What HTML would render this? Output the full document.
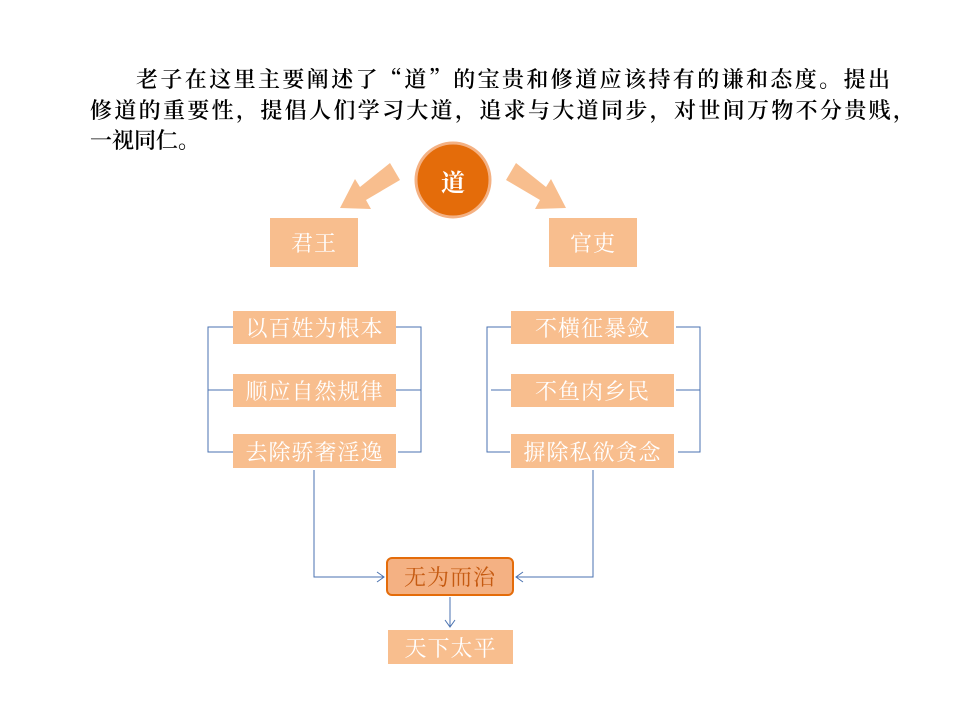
<!DOCTYPE html>
<html><head><meta charset="utf-8"><style>
body{margin:0;width:960px;height:720px;background:#fff;position:relative;overflow:hidden;font-family:"Noto Serif CJK SC","Liberation Serif",serif}
.p{position:absolute;left:90px;font-size:22px;color:#000;white-space:nowrap;line-height:30px;font-weight:600}
.b{position:absolute;background:#F8BE8E;color:#fff;font-size:22px;display:flex;align-items:center;justify-content:center;letter-spacing:1px;font-family:"Noto Serif CJK SC",serif}
</style></head><body>
<div class="p" style="top:64px;left:136px;width:754px;text-align:justify;text-align-last:justify">老子在这里主要阐述了“道”的宝贵和修道应该持有的谦和态度。提出</div>
<div class="p" style="top:95px;width:825px;text-align:justify;text-align-last:justify">修道的重要性，提倡人们学习大道，追求与大道同步，对世间万物不分贵贱，</div>
<div class="p" style="top:125px">一视同仁。</div>

<svg width="960" height="720" style="position:absolute;left:0;top:0">
<polygon points="390,163 400,180 366,200 371,209 340,208 355,179 360,187" fill="#F8BE8E"/>
<polygon points="516,163 506,180 540,200 535,209 566,208 551,179 546,187" fill="#F8BE8E"/>
<circle cx="453" cy="180" r="37" fill="#E46C0A" stroke="#F4B183" stroke-width="3"/>
<g stroke="#4A72B0" stroke-width="1" fill="none">
<polyline points="233,327 208,327 208,452 233,452"/>
<line x1="208" y1="390" x2="233" y2="390"/>
<polyline points="396,327 421,327 421,452 398,452"/>
<line x1="396" y1="390" x2="421" y2="390"/>
<polyline points="511,327 487,327 487,452 510,452"/>
<line x1="491" y1="390" x2="511" y2="390"/>
<polyline points="676,327 700,327 700,452 678,452"/>
<line x1="676" y1="390" x2="700" y2="390"/>
<polyline points="314,470 314,577 384,577"/>
<polyline points="377,572 384,577 377,582"/>
<polyline points="593,470 593,577 516,577"/>
<polyline points="523,572 516,577 523,582"/>
<line x1="450" y1="597" x2="450" y2="627"/>
<polyline points="445,620 450,627 455,620"/>
</g>
</svg>
<div style="position:absolute;left:416px;top:143px;width:74px;height:74px;display:flex;align-items:center;justify-content:center;color:#fff;font-size:24px;font-weight:bold">道</div>
<div class="b" style="left:270px;top:218px;width:88px;height:49px">君王</div>
<div class="b" style="left:549px;top:218px;width:88px;height:49px">官吏</div>
<div class="b" style="left:233px;top:311px;width:163px;height:33px">以百姓为根本</div>
<div class="b" style="left:233px;top:374px;width:163px;height:33px">顺应自然规律</div>
<div class="b" style="left:233px;top:434px;width:163px;height:34px">去除骄奢淫逸</div>
<div class="b" style="left:511px;top:311px;width:163px;height:33px">不横征暴敛</div>
<div class="b" style="left:511px;top:374px;width:163px;height:33px">不鱼肉乡民</div>
<div class="b" style="left:511px;top:434px;width:163px;height:34px">摒除私欲贪念</div>
<div class="b" style="left:386px;top:557px;width:124px;height:35px;background:#F4B183;border:2px solid #E46C0A;border-radius:6px;color:#C55A11">无为而治</div>
<div class="b" style="left:388px;top:630px;width:125px;height:34px">天下太平</div>
</body></html>
